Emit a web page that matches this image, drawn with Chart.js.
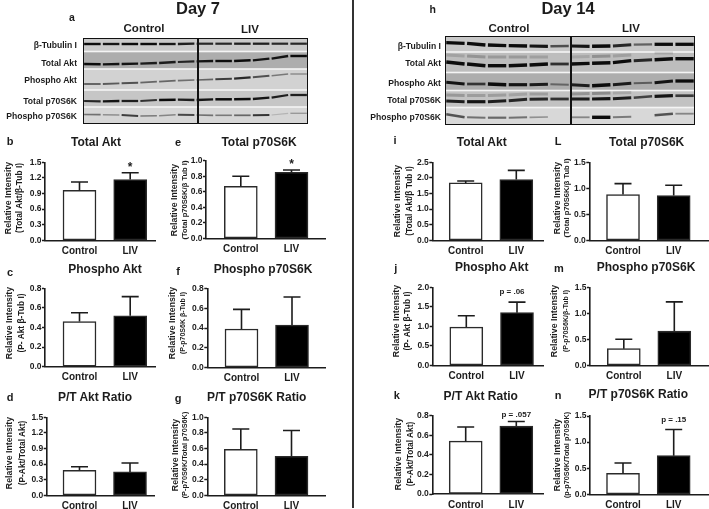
<!DOCTYPE html>
<html>
<head>
<meta charset="utf-8">
<title>LIV western blots Day 7 and Day 14</title>
<script src="https://cdn.jsdelivr.net/npm/chart.js@4/dist/chart.umd.min.js"></script>
<style>
  html, body { margin: 0; padding: 0; background: #fff; overflow: hidden; }
  #page { position: relative; width: 709px; height: 509px; filter: blur(0.45px); background: #fff; }
  #page canvas { position: absolute; }
  #page canvas.blot { filter: blur(0.7px); }
  .txt { position: absolute; white-space: nowrap; font-family: "Liberation Sans", Arial, sans-serif; font-weight: bold; color: #1c1c1c; line-height: 1; }
</style>
</head>
<body>
<div id="page"></div>
<script>
var categories = ['Control', 'LIV'];

// day 7 bars, upper whisker = value + err
var totalAkt7 = [0.96, 1.17],      totalAkt7Err = [0.16, 0.13];
var totalS6k7 = [0.67, 0.85],      totalS6k7Err = [0.13, 0.03];
var phosphoAkt7 = [0.46, 0.52],    phosphoAkt7Err = [0.09, 0.195];
var phosphoS6k7 = [0.39, 0.43],    phosphoS6k7Err = [0.20, 0.285];
var ratioAkt7 = [0.48, 0.45],      ratioAkt7Err = [0.07, 0.17];
var ratioS6k7 = [0.59, 0.50],      ratioS6k7Err = [0.26, 0.33];

// day 14 bars
var totalAkt14 = [1.84, 1.95],     totalAkt14Err = [0.06, 0.29];
var totalS6k14 = [0.88, 0.86],     totalS6k14Err = [0.21, 0.20];
var phosphoAkt14 = [0.98, 1.35],   phosphoAkt14Err = [0.29, 0.27];
var phosphoS6k14 = [0.32, 0.66],   phosphoS6k14Err = [0.18, 0.56];
var ratioAkt14 = [0.54, 0.695],    ratioAkt14Err = [0.145, 0.045];
var ratioS6k14 = [0.40, 0.74],     ratioS6k14Err = [0.20, 0.50];

var ticks15by3 = [0, 0.3, 0.6, 0.9, 1.2, 1.5];
var ticks10by2 = [0, 0.2, 0.4, 0.6, 0.8, 1.0];
var ticks08by2 = [0, 0.2, 0.4, 0.6, 0.8];
var ticks25by5 = [0, 0.5, 1.0, 1.5, 2.0, 2.5];
var ticks15by5 = [0, 0.5, 1.0, 1.5];
var ticks20by5 = [0, 0.5, 1.0, 1.5, 2.0];

var blotRows = ['β-Tubulin I', 'Total Akt', 'Phospho Akt', 'Total p70S6K', 'Phospho p70S6K'];

// blot bands: lane 1-12 position down the membrane and darkness 0-1
var bandPos7 = [
  [6, 6, 6, 6, 6, 6, 5.7, 5.7, 5.7, 5.7, 5.7, 5.7],
  [26, 26.3, 26, 25.7, 25, 24, 23.3, 23, 23, 22.3, 20.7, 18],
  [46, 46, 45.3, 44.7, 43.7, 42.7, 42, 41.3, 40.7, 39.3, 37.7, 36],
  [63, 63.3, 63, 63, 62, 61.7, 62, 61.3, 61.3, 61, 59.7, 57],
  [76.5, 76.7, 77, 78, 77.7, 76.7, 77, 77.3, 77.3, 77.3, 77, 75.3]
];
var bandInk7 = [
  [0.95, 0.9, 0.95, 0.95, 0.9, 0.85, 0.8, 0.8, 0.85, 0.85, 0.8, 0.8],
  [0.95, 0.9, 0.9, 0.85, 0.85, 0.8, 0.9, 0.95, 0.95, 0.9, 0.9, 0.95],
  [0.55, 0.55, 0.6, 0.5, 0.5, 0.45, 0.5, 0.7, 0.8, 0.6, 0.4, 0.3],
  [0.8, 0.9, 0.85, 0.75, 1, 0.85, 0.9, 1, 0.95, 0.9, 0.85, 0.85],
  [0.45, 0.3, 0.7, 0.4, 0.35, 0.65, 0.45, 0.4, 0.5, 0.75, 0.12, 0.25]
];
// the last two rows are the faint upper bands of Total Akt and Total p70S6K
var bandPos14 = [
  [6.7, 7.3, 9, 9.7, 10, 10.3, 10, 10.3, 10, 8.7, 8.3, 8.3],
  [26, 28, 29.7, 29.7, 29, 28, 28, 27.3, 26.7, 24.7, 23.7, 22.7],
  [46.3, 48, 48, 48.7, 48.7, 48.3, 48.7, 49.7, 48.7, 47.3, 46.7, 45],
  [65, 65.7, 65.7, 64.7, 63.3, 63, 63, 63, 62.7, 61.7, 60.3, 59.7],
  [78.3, 81.3, 81.7, 81.7, 81.3, 81, 81.3, 81.3, 81.3, 80.7, 79.3, 77.7],
  [19, 20, 21, 21, 21, 21, 21, 20.5, 20, 19, 17, 17],
  [59, 59.5, 59.5, 59, 58, 58, 58, 57.5, 57, 56.5, 55, 55]
];
var bandInk14 = [
  [0.95, 0.95, 0.95, 0.95, 0.9, 0.6, 0.9, 1, 0.8, 0.5, 0.95, 0.95],
  [1, 1, 1, 1, 0.95, 0.75, 0.95, 1, 0.95, 0.8, 1, 1],
  [0.9, 0.7, 1, 0.9, 0.85, 0.4, 0.85, 1, 0.85, 0.45, 0.9, 0.95],
  [0.85, 0.9, 0.85, 0.8, 0.8, 0.75, 0.85, 0.9, 0.85, 0.65, 0.9, 0.7],
  [0.6, 0.45, 0.5, 0.45, 0.3, 0, 0.35, 1, 0.4, 0, 0.6, 0.35],
  [0.1, 0.18, 0.15, 0.15, 0.12, 0, 0.08, 0.2, 0.12, 0, 0.08, 0],
  [0.18, 0.15, 0.15, 0.12, 0.15, 0, 0.2, 0.25, 0.1, 0, 0, 0]
];

var page = document.getElementById('page');
var FONT = '"Liberation Sans", Arial, sans-serif';
var INK = '#1c1c1c';

function label(text, x, y, size, opts) {
  opts = opts || {};
  var d = document.createElement('div');
  d.className = 'txt';
  d.textContent = text;
  d.style.fontSize = size + 'px';
  d.style.left = x + 'px';
  d.style.top = y + 'px';
  var tx = opts.align === 'right' ? '-100%' : '-50%';
  d.style.transform = 'translate(' + tx + ',-50%)' + (opts.rotate ? ' rotate(-90deg)' : '');
  page.appendChild(d);
}

// whiskers and significance notes, placed through the chart scales
var whiskerPlugin = {
  id: 'whiskers',
  afterDatasetsDraw: function (chart, args, o) {
    var c = chart.ctx, xs = chart.scales.x, ys = chart.scales.y;
    c.save();
    c.strokeStyle = INK;
    c.lineWidth = 1.6;
    o.values.forEach(function (v, i) {
      var x = xs.getPixelForValue(i);
      var y0 = ys.getPixelForValue(v);
      var y1 = ys.getPixelForValue(v + o.err[i]);
      c.beginPath();
      c.moveTo(x, y0); c.lineTo(x, y1);
      c.moveTo(x - 8.5, y1); c.lineTo(x + 8.5, y1);
      c.stroke();
      if (o.note && i === 1) {
        c.fillStyle = INK;
        c.textAlign = 'center';
        c.textBaseline = 'middle';
        c.font = 'bold ' + (o.note === '*' ? 12 : 8) + 'px ' + FONT;
        c.fillText(o.note, x + (o.noteDx || 0), y1 - o.noteUp);
      }
    });
    c.restore();
  }
};

function panel(p) {
  var cv = document.createElement('canvas');
  cv.width = 709; cv.height = 509;
  cv.style.left = '0'; cv.style.top = '0';
  page.appendChild(cv);

  var colors = ['#ffffff', '#000000'];
  var pts = p.values.map(function (v, i) { return { x: i, y: v }; });
  // x range so bar centres land under the category labels
  var step = p.c2 - p.c1;
  var xMin = (p.left - p.c1) / step;
  var xMax = (p.right - p.c1) / step;

  new Chart(cv.getContext('2d'), {
    type: 'bar',
    data: {
      datasets: [{
        data: pts,
        backgroundColor: colors,
        borderColor: '#2a2a2a',
        borderWidth: 1.5,
        borderSkipped: false,
        barThickness: 33
      }]
    },
    options: {
      responsive: false,
      animation: false,
      devicePixelRatio: 1,
      layout: { padding: { left: 0, right: 709 - p.right, top: p.top, bottom: 0 } },
      plugins: {
        legend: { display: false },
        tooltip: { enabled: false },
        whiskers: { values: p.values, err: p.err, note: p.note, noteUp: p.noteUp, noteDx: p.noteDx }
      },
      scales: {
        x: {
          type: 'linear',
          offset: false,
          min: xMin, max: xMax,
          afterFit: function (s) { s.height = 509 - p.zero; },
          afterBuildTicks: function (s) { s.ticks = [{ value: 0 }, { value: 1 }]; },
          grid: { offset: false, drawOnChartArea: false, drawTicks: false },
          border: { color: INK, width: 1.6 },
          ticks: {
            padding: 5, autoSkip: false, maxRotation: 0, color: INK,
            font: { family: FONT, size: 10, weight: 'bold' },
            callback: function (v) { return categories[v]; }
          }
        },
        y: {
          min: p.ticks[0], max: p.ticks[p.ticks.length - 1],
          afterFit: function (s) { s.width = p.left; },
          afterBuildTicks: function (s) { s.ticks = p.ticks.map(function (t) { return { value: t }; }); },
          grid: { drawOnChartArea: false, tickLength: 3, tickColor: INK, tickWidth: 1.5 },
          border: { color: INK, width: 1.6 },
          ticks: {
            padding: 0.5, color: INK,
            font: { family: FONT, size: 8.5, weight: 'bold' },
            callback: function (v) { return v.toFixed(1); }
          }
        }
      }
    },
    plugins: [whiskerPlugin]
  });

  label(p.title, p.titleX, p.titleY, 12);
  label(p.letter, p.letterX, p.letterY, 11);
  label('Relative Intensity', p.y1, p.yMid, 8.8, { rotate: true });
  label(p.sub, p.y2, p.yMid, p.subSize, { rotate: true });
}

// strips behind the bands, through the blot's scales
var stripPlugin = {
  id: 'strips',
  beforeDatasetsDraw: function (chart, args, o) {
    var c = chart.ctx, xs = chart.scales.x, ys = chart.scales.y;
    var l = xs.getPixelForValue(0), r = xs.getPixelForValue(12);
    o.edges.forEach(function (e, i) {
      if (i === o.edges.length - 1) return;
      var a = ys.getPixelForValue(e), b = ys.getPixelForValue(o.edges[i + 1]);
      c.fillStyle = o.shades[i];
      c.fillRect(l, a, r - l, b - a);
      if (i > 0) { c.fillStyle = '#f4f4f4'; c.fillRect(l, a - 0.8, r - l, 1.6); }
    });
  }
};

// frame stays sharp, so it sits on its own overlay
function blotFrame(b) {
  var d = document.createElement('div');
  d.style.cssText = 'position:absolute;box-sizing:border-box;border:1.6px solid #111;left:' + b.x + 'px;top:' + b.y + 'px;width:' + b.w + 'px;height:' + b.h + 'px';
  page.appendChild(d);
  var m = document.createElement('div');
  m.style.cssText = 'position:absolute;background:#111;width:2px;left:' + (b.x + b.w / 2 + b.mid) + 'px;top:' + b.y + 'px;height:' + b.h + 'px';
  page.appendChild(m);
}

function blot(b) {
  var cv = document.createElement('canvas');
  cv.width = b.w; cv.height = b.h;
  cv.className = 'blot';
  cv.style.left = b.x + 'px'; cv.style.top = b.y + 'px';
  page.appendChild(cv);

  var sets = [];
  b.pos.forEach(function (row, r) {
    row.forEach(function (y, lane) {
      var ink = b.ink[r][lane];
      if (!ink) return;
      var next = lane < 11 ? row[lane + 1] : y;
      sets.push({
        type: 'line',
        data: [{ x: lane + 0.06, y: y }, { x: lane + 0.94, y: next }],
        borderColor: 'rgba(12,12,12,' + Math.min(1, ink + 0.05) + ')',
        borderWidth: ink < 0.3 && r > 4 ? 3 : 1 + ink * b.thick,
        borderCapStyle: 'butt',
        pointRadius: 0
      });
    });
  });

  new Chart(cv.getContext('2d'), {
    type: 'line',
    data: { datasets: sets },
    options: {
      responsive: false,
      animation: false,
      devicePixelRatio: 1,
      layout: { padding: 0 },
      plugins: {
        legend: { display: false },
        tooltip: { enabled: false },
        strips: { edges: b.edges, shades: b.shades }
      },
      scales: {
        x: { type: 'linear', display: false, min: 0, max: 12 },
        y: { type: 'linear', display: false, min: 0, max: b.h, reverse: true }
      }
    },
    plugins: [stripPlugin]
  });

  blotFrame(b);
  blotRows.forEach(function (name, i) {
    label(name, b.labelX, b.labelY[i], 8.6, { align: 'right' });
  });
}

blot({
  x: 83, y: 38, w: 225, h: 86, mid: 1.5, pos: bandPos7, ink: bandInk7, thick: 1.5,
  edges: [0, 13.5, 31, 52, 69, 86],
  shades: ['#cacaca', '#adadad', '#d2d2d2', '#c6c6c6', '#d6d6d6'],
  labelX: 77, labelY: [45, 63, 80, 101, 116]
});
blot({
  x: 445, y: 36, w: 250, h: 89, mid: 0, pos: bandPos14, ink: bandInk14, thick: 2.4,
  edges: [0, 16, 36.5, 54.5, 71.5, 89],
  shades: ['#c8c8c8', '#bdbdbd', '#adadad', '#c2c2c2', '#d8d8d8'],
  labelX: 441, labelY: [46, 63, 83, 100, 117]
});

panel({ values: totalAkt7, err: totalAkt7Err, ticks: ticks15by3, left: 45, right: 155, top: 162.3, zero: 240.3, c1: 79.5, c2: 130.2,
  title: 'Total Akt', titleX: 96, titleY: 142, letter: 'b', letterX: 10, letterY: 141, y1: 7.7, y2: 19.3, yMid: 198, sub: '(Total Akt/β-Tub I)', subSize: 8.4, note: '*', noteUp: 5 });
panel({ values: totalS6k7, err: totalS6k7Err, ticks: ticks10by2, left: 206, right: 325, top: 160.7, zero: 238.3, c1: 240.8, c2: 291.5,
  title: 'Total p70S6K', titleX: 259, titleY: 142, letter: 'e', letterX: 178, letterY: 142, y1: 174, y2: 185, yMid: 200, sub: '(Total p70S6K/β Tub I)', subSize: 7.6, note: '*', noteUp: 5 });
panel({ values: phosphoAkt7, err: phosphoAkt7Err, ticks: ticks08by2, left: 45, right: 155, top: 288.3, zero: 366.7, c1: 79.5, c2: 130.2,
  title: 'Phospho Akt', titleX: 105, titleY: 269, letter: 'c', letterX: 10, letterY: 272, y1: 9, y2: 20.7, yMid: 323, sub: '(P- Akt β-Tub I)', subSize: 8.4 });
panel({ values: phosphoS6k7, err: phosphoS6k7Err, ticks: ticks08by2, left: 207.3, right: 325.7, top: 288.7, zero: 367.3, c1: 241.5, c2: 292,
  title: 'Phospho p70S6K', titleX: 263, titleY: 269, letter: 'f', letterX: 178, letterY: 271, y1: 171.7, y2: 182.3, yMid: 323, sub: '(P-p70S6K β-Tub I)', subSize: 7 });
panel({ values: ratioAkt7, err: ratioAkt7Err, ticks: ticks15by3, left: 46.7, right: 155, top: 417.3, zero: 495.3, c1: 79.5, c2: 130,
  title: 'P/T Akt Ratio', titleX: 95, titleY: 397, letter: 'd', letterX: 10, letterY: 397, y1: 9, y2: 21.7, yMid: 452.7, sub: '(P-Akt/Total Akt)', subSize: 8.4 });
panel({ values: ratioS6k7, err: ratioS6k7Err, ticks: ticks10by2, left: 207.3, right: 325, top: 417.3, zero: 495.3, c1: 240.8, c2: 291.5,
  title: 'P/T p70S6K Ratio', titleX: 256.7, titleY: 397, letter: 'g', letterX: 178, letterY: 398, y1: 175, y2: 185, yMid: 455, sub: '(P-p70S6K/Total p70S6K)', subSize: 7.3 });

panel({ values: totalAkt14, err: totalAkt14Err, ticks: ticks25by5, left: 432.3, right: 543, top: 162.3, zero: 240.3, c1: 465.7, c2: 516.3,
  title: 'Total Akt', titleX: 481.7, titleY: 142, letter: 'i', letterX: 395, letterY: 140, y1: 397.3, y2: 409.3, yMid: 200.7, sub: '(Total Akt/β Tub I)', subSize: 8.4 });
panel({ values: totalS6k14, err: totalS6k14Err, ticks: ticks15by5, left: 589.3, right: 708, top: 162.3, zero: 240.3, c1: 623, c2: 673.7,
  title: 'Total p70S6K', titleX: 646.7, titleY: 142, letter: 'L', letterX: 558, letterY: 141, y1: 556.7, y2: 566.7, yMid: 198, sub: '(Total p70S6K/β Tub I)', subSize: 7.6 });
panel({ values: phosphoAkt14, err: phosphoAkt14Err, ticks: ticks20by5, left: 432.7, right: 543, top: 287.3, zero: 365.3, c1: 466.3, c2: 517,
  title: 'Phospho Akt', titleX: 491.7, titleY: 267, letter: 'j', letterX: 395.7, letterY: 268, y1: 395.7, y2: 407.3, yMid: 320.7, sub: '(P- Akt β-Tub I)', subSize: 8.4, note: 'p = .06', noteUp: 10, noteDx: -5 });
panel({ values: phosphoS6k14, err: phosphoS6k14Err, ticks: ticks15by5, left: 590, right: 709, top: 287.3, zero: 365.3, c1: 623.8, c2: 674.3,
  title: 'Phospho p70S6K', titleX: 646, titleY: 267, letter: 'm', letterX: 559, letterY: 268, y1: 554, y2: 565, yMid: 320.7, sub: '(P-p70S6K/β-Tub I)', subSize: 7 });
panel({ values: ratioAkt14, err: ratioAkt14Err, ticks: ticks08by2, left: 432.3, right: 543, top: 415.7, zero: 494, c1: 465.7, c2: 516.3,
  title: 'P/T Akt Ratio', titleX: 480.7, titleY: 395.7, letter: 'k', letterX: 396.7, letterY: 395, y1: 398.3, y2: 410, yMid: 454, sub: '(P-Akt/Total Akt)', subSize: 8.4, note: 'p = .057', noteUp: 6.7 });
panel({ values: ratioS6k14, err: ratioS6k14Err, ticks: ticks15by5, left: 590, right: 709, top: 416, zero: 494.3, c1: 623, c2: 673.7,
  title: 'P/T p70S6K Ratio', titleX: 638.3, titleY: 394, letter: 'n', letterX: 558, letterY: 395, y1: 556.7, y2: 567.3, yMid: 455, sub: '(p-p70S6K/Total p70S6K)', subSize: 7.3, note: 'p = .15', noteUp: 9.3 });

label('Day 7', 198, 8, 16.5);
label('Day 14', 568, 8, 16.5);
label('a', 72, 17, 10.5);
label('h', 432.7, 9, 10.5);
label('Control', 144, 28.7, 11.5);
label('LIV', 250, 30, 11.5);
label('Control', 509, 28.5, 11.5);
label('LIV', 631, 29, 11.5);

var rule = document.createElement('div');
rule.style.cssText = 'position:absolute;left:352.3px;top:0;width:2px;height:508px;background:#333';
page.appendChild(rule);
</script>
</body>
</html>
